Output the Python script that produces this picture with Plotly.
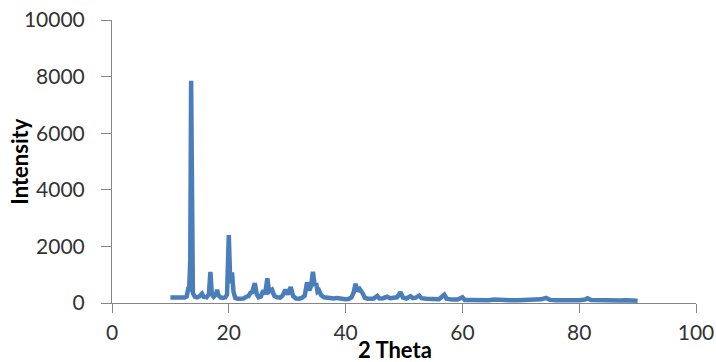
import plotly.graph_objects as go

two_theta = [10.0, 10.5, 11.0, 11.5, 12.0, 12.5, 12.8, 13.0, 13.2, 13.4, 13.55, 13.7, 13.85,
             14.2, 14.6, 15.0, 15.4, 15.7, 16.2, 16.6, 16.85, 17.1, 17.4, 17.8, 18.0, 18.2,
             18.6, 19.0, 19.4, 19.7, 20.0, 20.25, 20.55, 20.8, 21.1, 21.5, 22.0, 22.5, 23.0,
             23.4, 23.7, 24.0, 24.45, 24.8, 25.1, 25.5, 25.9, 26.2, 26.6, 26.9, 27.4, 27.8,
             28.3, 28.8, 29.2, 29.7, 30.1, 30.6, 31.0, 31.5, 32.0, 32.5, 33.0, 33.4, 33.8,
             34.1, 34.4, 34.7, 34.95, 35.2, 35.45, 35.8, 36.3, 36.8, 37.3, 38.0, 38.5, 39.0,
             39.5, 40.0, 40.5, 41.0, 41.4, 41.7, 42.0, 42.4, 42.9, 43.3, 43.8, 44.3, 44.8,
             45.4, 45.8, 46.4, 47.1, 47.6, 48.2, 48.8, 49.4, 49.8, 50.4, 51.1, 51.5, 52.0,
             52.6, 53.0, 53.8, 54.6, 55.4, 56.0, 56.9, 57.3, 58.2, 59.2, 60.0, 60.4, 61.5,
             62.5, 63.5, 64.5, 65.5, 66.5, 67.5, 68.5, 69.5, 70.5, 71.5, 72.5, 73.5, 74.3,
             75.0, 76.0, 77.0, 78.0, 79.0, 80.0, 81.0, 81.4, 82.0, 83.0, 84.0, 85.0, 86.0,
             87.0, 88.0, 89.0, 90.0]

intensity = [190, 185, 180, 185, 175, 190, 230, 450, 420, 1500, 7850, 1200, 350,
             220, 200, 240, 330, 220, 200, 320, 1100, 300, 220, 300, 470, 280,
             200, 180, 200, 300, 2400, 700, 1080, 400, 180, 150, 140, 160, 220,
             250, 360, 380, 700, 300, 200, 230, 450, 300, 875, 400, 470, 250,
             200, 190, 260, 470, 300, 560, 250, 160, 150, 180, 260, 730, 450,
             600, 1100, 600, 700, 400, 440, 280, 200, 190, 150, 160, 180, 150,
             140, 130, 140, 200, 380, 680, 420, 500, 350, 180, 150, 140, 160,
             250, 160, 170, 220, 170, 180, 200, 380, 200, 160, 240, 170, 190,
             260, 170, 150, 140, 150, 130, 290, 150, 120, 120, 200, 110, 110,
             100, 110, 100, 120, 100, 100, 95, 100, 110, 100, 120, 130, 180,
             110, 100, 95, 100, 90, 100, 120, 170, 110, 100, 90, 95, 110,
             90, 100, 85, 80]

x_ticks = [0, 20, 40, 60, 80, 100]
y_ticks = [0, 2000, 4000, 6000, 8000, 10000]

fig = go.Figure()
fig.add_trace(go.Scatter(
    x=two_theta, y=intensity, mode="lines",
    line=dict(color="#4a7ebb", width=4.5),
    showlegend=False,
))

axis_common = dict(
    showgrid=False, zeroline=False, showline=True,
    linecolor="#868686", linewidth=1,
    ticks="outside", tickcolor="#868686", tickwidth=1,
    tickformat="d", ticklabeloverflow="allow", automargin=False,
    tickfont=dict(family="Lato, Open Sans, sans-serif", size=21, color="#333333"),
)

fig.update_xaxes(range=[0, 100], tickvals=x_ticks, ticklen=9,
                 ticklabelstandoff=2, **axis_common)
fig.update_yaxes(range=[0, 10000], tickvals=y_ticks, ticklen=10,
                 ticklabelstandoff=12, **axis_common)

fig.add_annotation(text="<b>2 Theta</b>", xref="paper", yref="paper",
                   x=0.485, y=-0.166, showarrow=False,
                   xanchor="center", yanchor="middle",
                   font=dict(family="Lato, Open Sans, sans-serif", size=22, color="#000000"))
fig.add_annotation(text="<b>Intensity</b>", xref="paper", yref="paper",
                   x=-0.159, y=0.5, showarrow=False, textangle=-90,
                   xanchor="center", yanchor="middle",
                   font=dict(family="Lato, Open Sans, sans-serif", size=22, color="#000000"))

fig.update_layout(
    width=716, height=362,
    margin=dict(l=112, r=20, t=20, b=59, autoexpand=False),
    plot_bgcolor="white", paper_bgcolor="white",
)

# remove the default 8px page margin so the figure fills the window
fig.write_html("out.html",
               config={"displayModeBar": False},
               post_script="document.body.style.margin='0';document.body.style.overflow='hidden';")
